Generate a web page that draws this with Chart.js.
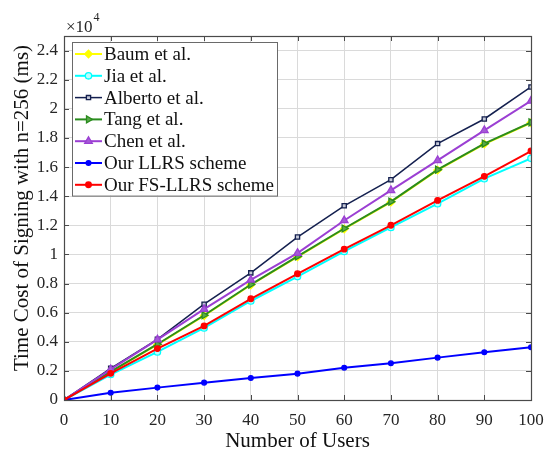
<!DOCTYPE html>
<html>
<head>
<meta charset="utf-8">
<title>Signing cost</title>
<script src="https://cdn.jsdelivr.net/npm/chart.js@4"></script>
<style>
  html, body { margin: 0; padding: 0; background: #fff; }
  #wrap { width: 545px; height: 452px; }
</style>
</head>
<body>
<div id="wrap"><canvas id="grafico" width="545" height="452"></canvas></div>
<script>
// number of users on the x axis
const users = [0, 10, 20, 30, 40, 50, 60, 70, 80, 90, 100];

// signing time in ms
const baum = [0, 1930, 3800, 5790, 7900, 9830, 11750, 13590, 15790, 17580, 19040];
const jia = [0, 1750, 3300, 4950, 6800, 8480, 10200, 11850, 13480, 15200, 16600];
const alberto = [0, 2180, 4170, 6580, 8730, 11190, 13340, 15130, 17610, 19300, 21500];
const tang = [0, 1950, 3830, 5820, 7930, 9860, 11780, 13620, 15820, 17610, 19070];
const chen = [0, 2100, 4150, 6240, 8250, 10090, 12330, 14400, 16460, 18520, 20540];
const llrs = [0, 500, 850, 1190, 1510, 1810, 2220, 2520, 2910, 3280, 3620];
const fsLlrs = [0, 1830, 3530, 5090, 6950, 8670, 10360, 12000, 13710, 15360, 17100];

// y ticks (shown in units of 10^4 ms)
const yTicks = [0, 2000, 4000, 6000, 8000, 10000, 12000, 14000, 16000, 18000, 20000, 22000, 24000];
const yMax = 25000;

const ctx = document.getElementById("grafico").getContext("2d");
const serif = "'Liberation Serif', 'Times New Roman', serif";
const axisColor = "#262626";

function serie(label, data, color, style, extra) {
  return Object.assign({
    label,
    data,
    borderColor: color,
    backgroundColor: color,
    pointBorderColor: color,
    pointBackgroundColor: color,
    pointStyle: style,
    pointRadius: 3,
    pointBorderWidth: 1.3,
    borderWidth: 2,
    tension: 0,
    fill: false,
  }, extra || {});
}

const datasets = [
  serie("Baum et al.", baum, "#ffff00", "rectRot", { pointRadius: 3.8 }),
  serie("Jia et al.", jia, "#00ffff", "circle", { pointBackgroundColor: "#b8ffff", pointRadius: 3.2 }),
  serie("Alberto et al.", alberto, "#14204f", "rect", { pointBackgroundColor: "#c5c9d8", pointRadius: 3, borderWidth: 1.5 }),
  serie("Tang et al.", tang, "#2a8c1e", "triangle", { pointRotation: 90, pointRadius: 4, pointBackgroundColor: "#5aa84a" }),
  serie("Chen et al.", chen, "#9b3fd3", "triangle", { pointRadius: 4.4, pointBackgroundColor: "#a55ad6" }),
  serie("Our LLRS scheme", llrs, "#0000ff", "circle", { pointRadius: 2.4 }),
  serie("Our FS-LLRS scheme", fsLlrs, "#ff0000", "circle", { pointRadius: 2.8 }),
];
// later series sit on top, as in the original plot
datasets.forEach((d, i) => { d.order = datasets.length - i; });

// box, inward ticks, axis titles, exponent and legend
const matlabBox = {
  id: "matlabBox",
  afterDraw(chart) {
    const { ctx, chartArea: a, scales } = chart;
    const c = ctx;
    c.save();
    c.strokeStyle = "#4a4a4a";
    c.lineWidth = 1;
    const tl = 5;
    c.beginPath();
    scales.x.ticks.forEach((t) => {
      const x = Math.round(scales.x.getPixelForValue(t.value)) + 0.5;
      c.moveTo(x, a.bottom); c.lineTo(x, a.bottom - tl);
      c.moveTo(x, a.top); c.lineTo(x, a.top + tl);
    });
    scales.y.ticks.forEach((t) => {
      const y = Math.round(scales.y.getPixelForValue(t.value)) + 0.5;
      c.moveTo(a.left, y); c.lineTo(a.left + tl, y);
      c.moveTo(a.right, y); c.lineTo(a.right - tl, y);
    });
    c.stroke();
    c.lineWidth = 1.2;
    c.strokeRect(Math.round(a.left) + 0.5, Math.round(a.top) + 0.5,
      Math.round(a.right - a.left), Math.round(a.bottom - a.top));

    // axis titles
    c.fillStyle = "#111";
    c.font = "21px " + serif;
    c.textAlign = "center";
    c.textBaseline = "middle";
    c.fillText("Number of Users", (a.left + a.right) / 2, a.bottom + 41);
    c.save();
    c.translate(22, (a.top + a.bottom) / 2 - 10);
    c.rotate(-Math.PI / 2);
    c.fillText("Time Cost of Signing with n=256 (ms)", 0, 0);
    c.restore();

    // ×10^4 multiplier
    c.fillStyle = axisColor;
    c.textBaseline = "alphabetic";
    c.textAlign = "left";
    c.font = "17px " + serif;
    c.fillText("×10", a.left + 2, a.top - 4);
    const w = c.measureText("×10").width;
    c.font = "12px " + serif;
    c.fillText("4", a.left + 3 + w, a.top - 15);

    // legend inside the axes
    const lx = a.left + 8, ly = a.top + 6, rowH = 21.8, bw = 205;
    const bh = rowH * chart.data.datasets.length + 1;
    c.fillStyle = "#fff";
    c.fillRect(lx, ly, bw, bh);
    c.strokeStyle = "#6a6a6a";
    c.lineWidth = 1;
    c.strokeRect(Math.round(lx) + 0.5, Math.round(ly) + 0.5, bw, bh);
    chart.data.datasets.forEach((d, i) => {
      const y = ly + 12 + i * rowH;
      c.strokeStyle = d.borderColor;
      c.lineWidth = d.borderWidth;
      c.beginPath();
      c.moveTo(lx + 3, y); c.lineTo(lx + 30, y);
      c.stroke();
      c.fillStyle = d.pointBackgroundColor;
      c.strokeStyle = d.pointBorderColor;
      c.lineWidth = d.pointBorderWidth;
      Chart.helpers.drawPoint(c, {
        pointStyle: d.pointStyle,
        radius: d.pointRadius,
        rotation: d.pointRotation || 0,
        borderWidth: d.pointBorderWidth,
      }, lx + 16.5, y);
      c.fillStyle = "#111";
      c.font = "19px " + serif;
      c.textBaseline = "middle";
      c.fillText(d.label, lx + 32, y + 1);
    });
    c.restore();
  },
};

new Chart(ctx, {
  type: "line",
  data: { labels: users, datasets },
  plugins: [matlabBox],
  options: {
    responsive: false,
    animation: false,
    layout: { padding: { top: 36, right: 14, left: 4, bottom: 0 } },
    plugins: { legend: { display: false }, tooltip: { enabled: false } },
    scales: {
      x: {
        type: "linear",
        min: 0,
        max: 100,
        border: { display: false },
        grid: { color: "#dadada", drawTicks: false },
        ticks: { stepSize: 10, padding: 10, color: axisColor, font: { family: serif, size: 17 }, maxRotation: 0 },
        afterFit(scale) {
          scale.height = 52;
          scale.paddingLeft = 0;
          scale.paddingRight = 0;
        },
      },
      y: {
        min: 0,
        max: yMax,
        border: { display: false },
        grid: { color: "#dadada", drawTicks: false },
        ticks: {
          padding: 6,
          color: axisColor,
          font: { family: serif, size: 17 },
          callback: (v) => String(Math.round(v / 1000) / 10),
        },
        afterBuildTicks(scale) { scale.ticks = yTicks.map((value) => ({ value })); },
        afterFit(scale) { scale.width = 60; },
      },
    },
  },
});
</script>
</body>
</html>
